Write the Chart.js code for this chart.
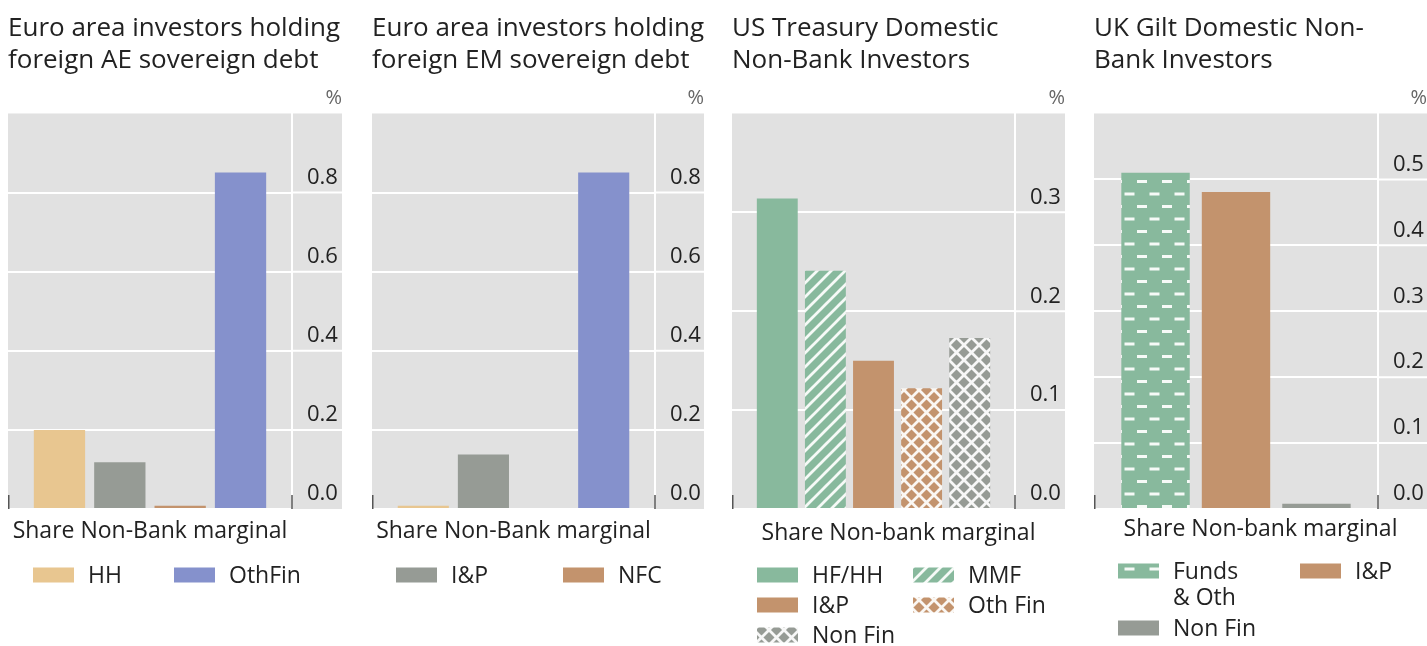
<!DOCTYPE html>
<html>
<head>
<meta charset="utf-8">
<script src="https://cdn.jsdelivr.net/npm/chart.js@4.4.0/dist/chart.umd.min.js"></script>
<style>
  html, body { margin: 0; padding: 0; background: #fff; overflow: hidden; }
  .panel { position: absolute; top: 0; height: 646px; }
</style>
</head>
<body>
<div class="panel" style="left:0px;width:350px"><canvas id="ae"></canvas></div>
<div class="panel" style="left:364px;width:348px"><canvas id="em"></canvas></div>
<div class="panel" style="left:724px;width:349px"><canvas id="us"></canvas></div>
<div class="panel" style="left:1086px;width:341px"><canvas id="uk"></canvas></div>
<script>
// data block
const aeSeries = ['HH', 'I&P', 'NFC', 'OthFin'];
const aeValues = [0.200, 0.118, 0.008, 0.851];
const emValues = [0.008, 0.138, 0.000, 0.851];

const usSeries = ['HF/HH', 'MMF', 'I&P', 'Oth Fin', 'Non Fin'];
const usValues = [0.314, 0.241, 0.150, 0.122, 0.173];

const ukSeries = ['Funds & Oth', 'I&P', 'Non Fin'];
const ukLegend = [['Funds', '& Oth'], ['I&P'], ['Non Fin']];
const ukValues = [0.510, 0.481, 0.008];

const euroTicks = [0, 0.2, 0.4, 0.6, 0.8];
const usTicks = [0, 0.1, 0.2, 0.3];
const ukTicks = [0, 0.1, 0.2, 0.3, 0.4, 0.5];

Chart.defaults.font.family = "'Open Sans', 'DejaVu Sans', sans-serif";
Chart.defaults.color = '#222';

// colours + hatch fills
const sand = '#e8c690', slate = '#969b95', clay = '#c3936d', iris = '#8591cc', sage = '#88b99d';

function hatch(color, kind) {
    const c = document.createElement('canvas');
    const s = kind === 'dash' ? 25 : (kind === 'cross' ? 15 : 14);
    c.width = s; c.height = s;
    const g = c.getContext('2d');
    g.fillStyle = color;
    g.fillRect(0, 0, s, s);
    g.strokeStyle = 'rgba(255,255,255,0.92)';
    g.fillStyle = 'rgba(255,255,255,0.92)';
    g.lineWidth = 2.8;
    if (kind === 'dash') {
        g.fillRect(1, 5, 10, 3);
        g.fillRect(13.5, 17.5, 10, 3);
        return g.createPattern(c, 'repeat');
    }
    g.beginPath();
    g.moveTo(-1, s + 1); g.lineTo(s + 1, -1);
    g.moveTo(-1, 1); g.lineTo(1, -1);
    g.moveTo(s - 1, s + 1); g.lineTo(s + 1, s - 1);
    if (kind === 'cross') {
        g.moveTo(-1, -1); g.lineTo(s + 1, s + 1);
        g.moveTo(s - 1, -1); g.lineTo(s + 1, 1);
        g.moveTo(-1, s - 1); g.lineTo(1, s + 1);
    }
    g.stroke();
    return g.createPattern(c, 'repeat');
}

// panelDecor plugin block: grey plot box, % sign, axis title, legend grid
const panelDecor = {
    id: 'panelDecor',
    beforeDraw(chart) {
        const {ctx, chartArea: {left, top, bottom}, scales: {y}} = chart;
        ctx.save();
        ctx.fillStyle = '#e1e1e1';
        ctx.fillRect(left, top, y.right - left, bottom - top);
        ctx.restore();
    },
    beforeDatasetsDraw(chart) {
        // gridlines carry on under the tick labels
        const {ctx, scales: {y}} = chart;
        ctx.save();
        ctx.strokeStyle = '#fff';
        ctx.lineWidth = 2;
        ctx.beginPath();
        y.ticks.forEach((t, i) => {
            if (i === 0) return;
            const py = y.getPixelForTick(i);
            ctx.moveTo(y.left, py);
            ctx.lineTo(y.right, py);
        });
        ctx.stroke();
        ctx.restore();
    },
    afterDraw(chart, args, opts) {
        const {ctx, chartArea: {left, right, top, bottom}, scales: {y}} = chart;
        ctx.save();
        ctx.strokeStyle = '#555';
        ctx.lineWidth = 1.5;
        ctx.beginPath();
        [left + 0.75, right].forEach(px => {
            ctx.moveTo(px, bottom - 14);
            ctx.lineTo(px, bottom);
        });
        ctx.stroke();

        ctx.textBaseline = 'middle';
        ctx.fillStyle = '#666';
        ctx.font = "20px 'Open Sans'";
        ctx.textAlign = 'right';
        ctx.fillText('%', y.right, top - 15);

        ctx.fillStyle = '#222';
        ctx.font = "23px 'Open Sans'";
        ctx.textAlign = 'center';
        const cx = opts.xTitleCenter === 'panel' ? (left + y.right) / 2 : (left + right) / 2;
        ctx.fillText(opts.xTitle, cx, bottom + opts.xTitleGap);

        ctx.textAlign = 'left';
        opts.legend.forEach(item => {
            const ds = chart.data.datasets[item.ds];
            const bx = left + item.dx;
            ctx.fillStyle = ds.backgroundColor;
            ctx.fillRect(bx, item.y - 7.5, 41, 15);
            ctx.fillStyle = '#222';
            ds.legendText.forEach((line, k) => ctx.fillText(line, bx + 55, item.y + 1 + k * 26));
        });
        ctx.restore();
    }
};

// config block
function panel(id, cfg) {
    return new Chart(document.getElementById(id), {
        type: 'bar',
        data: {
            labels: [''],
            datasets: cfg.series.map((s, i) => ({
                label: s,
                legendText: cfg.legendText ? cfg.legendText[i] : [s],
                data: [cfg.values[i]],
                backgroundColor: cfg.colors[i],
                borderWidth: 0
            }))
        },
        options: {
            responsive: true,
            maintainAspectRatio: false,
            animation: false,
            events: [],
            layout: {padding: {left: 8, right: cfg.padRight, top: 0, bottom: 129}},
            datasets: {bar: {categoryPercentage: 0.85, barPercentage: 0.85}},
            scales: {
                x: {
                    grid: {display: false},
                    border: {display: false},
                    ticks: {display: false}
                },
                y: {
                    position: 'right',
                    min: 0,
                    max: cfg.max,
                    afterBuildTicks: s => { s.ticks = cfg.ticks.map(v => ({value: v})); },
                    afterFit: s => { s.width = cfg.axisWidth; },
                    grid: {color: '#fff', lineWidth: 2, drawTicks: false},
                    border: {display: true, color: '#fff', width: 2},
                    ticks: {
                        padding: 15,
                        labelOffset: -15,
                        color: '#222',
                        font: {size: 22},
                        callback: v => v.toFixed(1)
                    }
                }
            },
            plugins: {
                legend: {display: false},
                tooltip: {enabled: false},
                title: {
                    display: true,
                    text: cfg.title,
                    align: 'start',
                    color: '#222',
                    font: {size: 26, weight: 'normal', lineHeight: 1.24},
                    padding: {top: 12, bottom: 37}
                },
                panelDecor: {
                    xTitle: cfg.xTitle,
                    xTitleCenter: cfg.xTitleCenter,
                    xTitleGap: cfg.xTitleGap,
                    legend: cfg.legend
                }
            }
        },
        plugins: [panelDecor]
    });
}

// init render block
panel('ae', {
    title: ['Euro area investors holding', 'foreign AE sovereign debt'],
    series: aeSeries, values: aeValues, colors: [sand, slate, clay, iris],
    max: 1.0, ticks: euroTicks, padRight: 8, axisWidth: 50,
    xTitle: 'Share Non-Bank marginal', xTitleCenter: 'plot', xTitleGap: 22,
    legend: [{ds: 0, dx: 25, y: 575}, {ds: 3, dx: 166, y: 575}]
});

panel('em', {
    title: ['Euro area investors holding', 'foreign EM sovereign debt'],
    series: aeSeries, values: emValues, colors: [sand, slate, clay, iris],
    max: 1.0, ticks: euroTicks, padRight: 8, axisWidth: 49,
    xTitle: 'Share Non-Bank marginal', xTitleCenter: 'plot', xTitleGap: 22,
    legend: [{ds: 1, dx: 24, y: 575}, {ds: 2, dx: 191, y: 575}]
});

panel('us', {
    title: ['US Treasury Domestic', 'Non-Bank Investors'],
    series: usSeries, values: usValues,
    colors: [sage, hatch(sage, 'stripe'), clay, hatch(clay, 'cross'), hatch(slate, 'cross')],
    max: 0.4, ticks: usTicks, padRight: 8, axisWidth: 50,
    xTitle: 'Share Non-bank marginal', xTitleCenter: 'panel', xTitleGap: 24,
    legend: [
        {ds: 0, dx: 25, y: 575}, {ds: 1, dx: 181, y: 575},
        {ds: 2, dx: 25, y: 605}, {ds: 3, dx: 181, y: 605},
        {ds: 4, dx: 25, y: 635}
    ]
});

panel('uk', {
    title: ['UK Gilt Domestic Non-', 'Bank Investors'],
    series: ukSeries, legendText: ukLegend, values: ukValues,
    colors: [hatch(sage, 'dash'), clay, slate],
    max: 0.6, ticks: ukTicks, padRight: 0, axisWidth: 49,
    xTitle: 'Share Non-bank marginal', xTitleCenter: 'panel', xTitleGap: 20,
    legend: [{ds: 0, dx: 24, y: 571}, {ds: 1, dx: 206, y: 571}, {ds: 2, dx: 24, y: 628}]
});
</script>
</body>
</html>
